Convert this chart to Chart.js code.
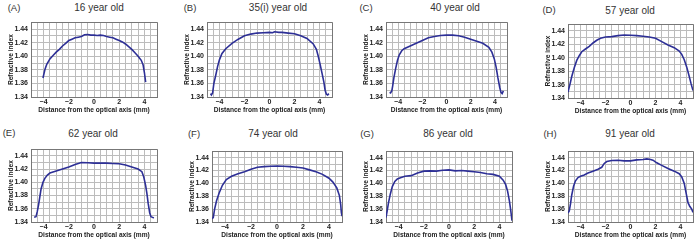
<!DOCTYPE html>
<html>
<head>
<meta charset="utf-8">
<script src="https://cdn.jsdelivr.net/npm/chart.js@4"></script>
<style>
  body { margin: 0; background: #fff; width: 700px; height: 241px; position: relative; overflow: hidden;
         font-family: "Liberation Sans", Arial, sans-serif; }
  canvas { position: absolute; }
  .lbl { position: absolute; color: #333; white-space: nowrap; transform: translate(-50%, -50%); }
  .ttl { font-size: 10px; }
  .pan { font-size: 9.5px; }
</style>
</head>
<body>
<script>
// panel names and titles
const letters = ['A', 'B', 'C', 'D', 'E', 'F', 'G', 'H'];
const titles = ['16 year old', '35(i) year old', '40 year old', '57 year old',
                '62 year old', '74 year old', '86 year old', '91 year old'];

// distance from the optical axis (mm) / refractive index, one pair per panel
const xA = [-4.05, -3.9, -3.75, -3.5, -3.25, -3.0, -2.75, -2.5, -2.25, -2.0, -1.75, -1.5, -1.25, -1.0, -0.75, -0.5, -0.25, 0, 0.25, 0.5, 0.75, 1.0, 1.25, 1.5, 1.75, 2.0, 2.25, 2.5, 2.75, 3.0, 3.25, 3.5, 3.75, 3.9, 4.0, 4.1];
const nA = [1.368, 1.380, 1.388, 1.396, 1.401, 1.406, 1.410, 1.415, 1.419, 1.423, 1.425, 1.427, 1.428, 1.429, 1.4315, 1.432, 1.431, 1.431, 1.4305, 1.431, 1.4305, 1.429, 1.428, 1.427, 1.425, 1.423, 1.421, 1.418, 1.414, 1.410, 1.405, 1.400, 1.394, 1.387, 1.376, 1.362];

const xB = [-4.72, -4.65, -4.55, -4.45, -4.3, -4.15, -4.0, -3.8, -3.5, -3.0, -2.5, -2.0, -1.5, -1.0, -0.5, 0, 0.25, 0.4, 0.75, 1.0, 1.5, 2.0, 2.5, 3.0, 3.5, 3.75, 3.9, 4.05, 4.2, 4.35, 4.45, 4.55, 4.65, 4.75];
const nB = [1.345, 1.343, 1.346, 1.360, 1.372, 1.385, 1.395, 1.404, 1.411, 1.419, 1.425, 1.430, 1.4325, 1.434, 1.4345, 1.435, 1.4345, 1.436, 1.435, 1.435, 1.434, 1.433, 1.430, 1.426, 1.418, 1.410, 1.400, 1.388, 1.375, 1.362, 1.350, 1.344, 1.343, 1.345];

const xC = [-4.7, -4.62, -4.52, -4.45, -4.35, -4.2, -4.05, -3.9, -3.7, -3.5, -3.0, -2.5, -2.0, -1.5, -1.0, -0.5, 0, 0.5, 1.0, 1.5, 2.0, 2.5, 3.0, 3.5, 3.75, 3.95, 4.1, 4.25, 4.4, 4.5, 4.6, 4.7];
const nC = [1.347, 1.346, 1.349, 1.356, 1.368, 1.382, 1.394, 1.402, 1.408, 1.411, 1.415, 1.419, 1.423, 1.427, 1.429, 1.4305, 1.431, 1.431, 1.430, 1.428, 1.425, 1.422, 1.419, 1.413, 1.406, 1.396, 1.384, 1.368, 1.354, 1.347, 1.345, 1.349];

const xD = [-5.0, -4.85, -4.7, -4.5, -4.3, -4.1, -3.9, -3.6, -3.3, -3.0, -2.7, -2.4, -2.0, -1.5, -1.0, -0.5, 0, 0.5, 1.0, 1.5, 2.0, 2.5, 3.0, 3.5, 3.9, 4.1, 4.3, 4.5, 4.7, 4.85, 5.0];
const nD = [1.349, 1.360, 1.372, 1.385, 1.396, 1.403, 1.409, 1.413, 1.417, 1.422, 1.426, 1.429, 1.431, 1.4315, 1.433, 1.434, 1.4335, 1.433, 1.432, 1.431, 1.429, 1.424, 1.419, 1.415, 1.410, 1.405, 1.397, 1.386, 1.372, 1.361, 1.351];

const xE = [-4.75, -4.6, -4.5, -4.4, -4.3, -4.2, -4.05, -3.9, -3.7, -3.5, -3.0, -2.5, -2.0, -1.5, -1.0, -0.5, 0, 0.5, 1.0, 1.5, 2.0, 2.5, 3.0, 3.5, 3.8, 3.95, 4.1, 4.2, 4.3, 4.42, 4.52, 4.65, 4.75];
const nE = [1.347, 1.348, 1.356, 1.366, 1.378, 1.390, 1.400, 1.406, 1.411, 1.414, 1.417, 1.420, 1.423, 1.427, 1.430, 1.4295, 1.429, 1.429, 1.429, 1.4285, 1.428, 1.426, 1.423, 1.420, 1.416, 1.408, 1.395, 1.383, 1.368, 1.354, 1.348, 1.347, 1.346];

const xF = [-4.98, -4.9, -4.8, -4.65, -4.45, -4.2, -3.9, -3.5, -3.0, -2.5, -2.0, -1.5, -1.0, -0.5, 0, 0.5, 1.0, 1.5, 2.0, 2.5, 3.0, 3.5, 4.0, 4.3, 4.6, 4.8, 4.9, 4.95, 5.0];
const nF = [1.345, 1.347, 1.360, 1.373, 1.385, 1.397, 1.406, 1.411, 1.415, 1.418, 1.422, 1.425, 1.426, 1.4265, 1.427, 1.4265, 1.426, 1.425, 1.424, 1.421, 1.418, 1.414, 1.408, 1.402, 1.393, 1.381, 1.367, 1.355, 1.349];

const xG = [-5.0, -4.9, -4.8, -4.65, -4.5, -4.3, -4.1, -3.8, -3.5, -3.0, -2.5, -2.0, -1.5, -1.0, -0.5, 0, 0.5, 1.0, 1.5, 2.0, 2.5, 3.0, 3.5, 4.0, 4.3, 4.5, 4.65, 4.8, 4.9, 5.0];
const nG = [1.347, 1.358, 1.370, 1.384, 1.395, 1.403, 1.407, 1.409, 1.411, 1.412, 1.416, 1.419, 1.4195, 1.419, 1.4205, 1.421, 1.4195, 1.420, 1.419, 1.418, 1.417, 1.415, 1.414, 1.411, 1.405, 1.398, 1.388, 1.372, 1.358, 1.342];

const xH = [-5.0, -4.9, -4.8, -4.7, -4.55, -4.4, -4.2, -4.0, -3.7, -3.4, -3.0, -2.6, -2.3, -2.1, -1.9, -1.5, -1.0, -0.5, 0, 0.5, 1.0, 1.3, 1.6, 1.8, 2.1, 2.5, 3.0, 3.5, 3.9, 4.1, 4.3, 4.45, 4.6, 4.75, 4.9, 5.0];
const nH = [1.354, 1.357, 1.368, 1.382, 1.396, 1.404, 1.409, 1.411, 1.413, 1.416, 1.419, 1.422, 1.425, 1.431, 1.434, 1.4355, 1.436, 1.435, 1.435, 1.4365, 1.437, 1.438, 1.437, 1.436, 1.432, 1.428, 1.423, 1.419, 1.415, 1.410, 1.400, 1.385, 1.370, 1.364, 1.360, 1.355];

const xs = [xA, xB, xC, xD, xE, xF, xG, xH];
const ns = [nA, nB, nC, nD, nE, nF, nG, nH];

// layout: plot rectangle [left, right, top, bottom], title centre, letter centre
const rects = [[31, 157, 17.5, 96.7], [207, 332, 17.5, 96.7], [386, 507, 17.5, 96.7], [568, 693, 20, 97.5],
               [31, 157, 145, 221.7], [212, 342, 146.7, 221.7], [386, 512, 146.7, 221.7], [568, 693, 146.7, 221.7]];
const titlePos = [[99, 7], [278, 7], [455, 7], [630, 10], [93, 133], [273, 133], [448, 133], [630, 133]];
const letterPos = [[14, 7], [190, 7], [366, 7], [549, 9], [9, 132], [194, 133], [367, 133], [550, 133]];

const yAxisW = 31, xAxisH = 20, pad = 3;
const tickFont = { family: 'Liberation Sans', size: 7, weight: 'bold' };
const frameColor = '#777', gridColor = '#bcbcbc';

function isMult(v, step) {
  const k = v / step;
  return Math.abs(k - Math.round(k)) < 1e-6;
}

function addText(cls, text, pos) {
  const d = document.createElement('div');
  d.className = 'lbl ' + cls;
  d.textContent = text;
  d.style.left = pos[0] + 'px';
  d.style.top = pos[1] + 'px';
  document.body.appendChild(d);
}

letters.forEach((letter, i) => {
  const [l, r, t, b] = rects[i];
  const cv = document.createElement('canvas');
  const w = Math.round(r - l + yAxisW + pad);
  const h = Math.round(b - t + pad + xAxisH);
  cv.width = w; cv.height = h;
  cv.style.left = (l - yAxisW) + 'px';
  cv.style.top = (t - pad) + 'px';
  document.body.appendChild(cv);

  addText('ttl', titles[i], titlePos[i]);
  addText('pan', '(' + letter + ')', letterPos[i]);

  const points = xs[i].map((x, k) => ({ x: x, y: ns[i][k] }));

  new Chart(cv.getContext('2d'), {
    type: 'line',
    data: {
      datasets: [{
        data: points,
        borderColor: '#2d2f96',
        borderWidth: 1.6,
        pointRadius: 0,
        tension: 0
      }]
    },
    options: {
      responsive: false,
      animation: false,
      events: [],
      layout: { padding: { top: pad, right: pad, left: 0, bottom: 0 } },
      plugins: { legend: { display: false }, tooltip: { enabled: false } },
      scales: {
        x: {
          type: 'linear', min: -5, max: 5,
          afterFit: s => { s.height = xAxisH; },
          border: { display: true, color: frameColor },
          grid: {
            drawTicks: false,
            color: c => (c.tick && (c.tick.value === -5 || c.tick.value === 5)) ? frameColor : gridColor
          },
          ticks: {
            stepSize: 0.5, padding: 1, color: '#222', font: tickFont, maxRotation: 0, autoSkip: false,
            callback: v => (isMult(v, 2) && Math.abs(v) < 4.9) ? (v < 0 ? '\u2212' + Math.abs(v) : String(v)) : ''
          },
          title: {
            display: true, text: 'Distance from the optical axis (mm)', color: '#222',
            font: { family: 'Liberation Sans', size: 6.6, weight: 'bold' },
            padding: { top: 0, bottom: 3 }
          }
        },
        y: {
          min: 1.34, max: 1.45,
          afterFit: s => { s.width = yAxisW; },
          border: { display: true, color: frameColor },
          grid: {
            drawTicks: false,
            color: c => (c.tick && (Math.abs(c.tick.value - 1.45) < 1e-6 || Math.abs(c.tick.value - 1.34) < 1e-6)) ? frameColor : gridColor
          },
          ticks: {
            stepSize: 0.01, padding: 3, color: '#222', font: tickFont, autoSkip: false,
            callback: v => (isMult(v, 0.02) && v < 1.445) ? v.toFixed(2) : ''
          },
          title: {
            display: true, text: 'Refractive index', color: '#222',
            font: { family: 'Liberation Sans', size: 6.6, weight: 'bold' },
            padding: { top: 7, bottom: 0 }
          }
        }
      }
    }
  });
});
</script>
</body>
</html>
